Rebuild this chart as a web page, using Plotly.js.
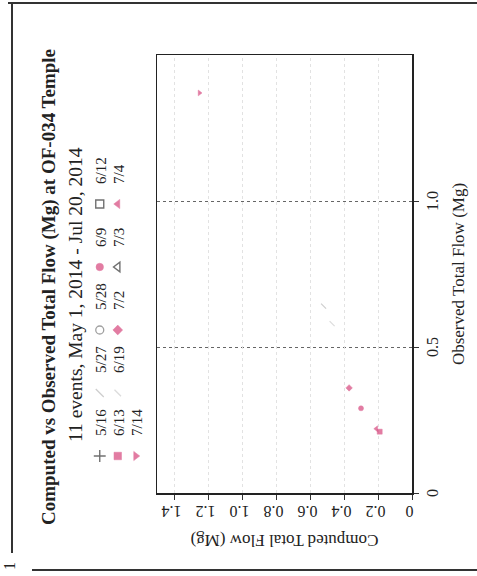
<!DOCTYPE html>
<html>
<head>
<meta charset="utf-8">
<script src="https://cdn.plot.ly/plotly-3.0.1.min.js"></script>
<style>
  html, body { margin: 0; padding: 0; background: #fff; }
  #wrap { position: relative; width: 477px; height: 576px; overflow: hidden; background: #fff; }
  #chart { position: absolute; left: 0; top: 0; width: 576px; height: 477px;
           transform-origin: 0 0; transform: translate(0px, 576px) rotate(-90deg); }
</style>
</head>
<body>
<div id="wrap"><div id="chart"></div></div>
<script>
// ---- data ----
const events   = ['5/16', '5/27', '5/28', '6/9', '6/12', '6/13', '6/19', '7/2', '7/3', '7/4', '7/14'];
const observed = [null, 0.64, null, 0.29, null, 0.21, 0.58, 0.36, null, 0.22, 1.37];
const computed = [null, 0.52, null, 0.30, null, 0.19, 0.47, 0.37, null, 0.21, 1.25];

const xTickVals = [0, 0.5, 1.0];
const xTickText = ['0', '0.5', '1.0'];
const yTickVals = [0, 0.2, 0.4, 0.6, 0.8, 1.0, 1.2, 1.4];
const yTickText = ['0', '0.2', '0.4', '0.6', '0.8', '1.0', '1.2', '1.4'];

const titleText    = 'Computed vs Observed Total Flow (Mg) at OF-034 Temple';
const subtitleText = '11 events, May 1, 2014 - Jul 20, 2014';
const xTitle = 'Observed Total Flow (Mg)';
const yTitle = 'Computed Total Flow (Mg)';

// ---- styles ----
const PINK = '#d6457c';
const DARK = '#333333';
const styles = [
  {symbol: 'cross-thin-open',  color: DARK,      lw: 1.4, ls: 12, legend: 'legend'},
  {symbol: 'line-ne-open',     color: '#b8b8b8', lw: 1.2, ls: 11, legend: 'legend'},
  {symbol: 'circle-open',      color: '#777777', lw: 1.3, ls: 11, legend: 'legend'},
  {symbol: 'circle',           color: PINK,      lw: 0.5, ls: 10, legend: 'legend'},
  {symbol: 'square-open',      color: DARK,      lw: 1.4, ls: 11, legend: 'legend',  last: true},
  {symbol: 'square',           color: PINK,      lw: 0.5, ls: 10, legend: 'legend2'},
  {symbol: 'line-ne-open',     color: '#cccccc', lw: 1.2, ls: 8,  legend: 'legend2'},
  {symbol: 'diamond',          color: PINK,      lw: 0.5, ls: 10, legend: 'legend2'},
  {symbol: 'triangle-up-open', color: DARK,      lw: 1.4, ls: 12, legend: 'legend2'},
  {symbol: 'triangle-up',      color: PINK,      lw: 0.5, ls: 11, legend: 'legend2', last: true},
  {symbol: 'triangle-down',    color: PINK,      lw: 0.5, ls: 11, legend: 'legend3', last: true}
];
const POINT_SIZE = 5;           // size of the plotted points

const FONT = 'Liberation Serif, Times New Roman, serif';

// first (empty) point only sets the legend symbol size; the second is the data point
const traces = events.map((ev, i) => {
  const t = {
    type: 'scatter',
    mode: 'markers',
    name: ev,
    x: [null, observed[i]],
    y: [null, computed[i]],
    legend: styles[i].legend,
    marker: {
      symbol: styles[i].symbol,
      size: [styles[i].ls, POINT_SIZE],
      color: styles[i].color,
      line: {color: styles[i].color, width: styles[i].lw}
    },
    hoverinfo: 'x+y+name'
  };
  if (styles[i].last) t.legendwidth = 34;
  return t;
});

// plot area in page px (unrotated): x 83..521, y 157..412
const L = 83, T = 157, W = 438, H = 255;
const px = ux => (ux - L) / W;
const py = uy => (T + H - uy) / H;

const legendBase = {
  orientation: 'h', xanchor: 'left', yanchor: 'middle',
  entrywidth: 18, itemsizing: 'trace', bgcolor: 'rgba(0,0,0,0)',
  font: {family: FONT, size: 15, color: '#222'}, tracegroupgap: 0
};

const layout = {
  width: 576, height: 477,
  margin: {l: L, r: 576 - L - W, t: T, b: 477 - T - H},
  paper_bgcolor: '#ffffff', plot_bgcolor: '#ffffff',
  font: {family: FONT, color: '#222'},
  title: {
    text: titleText, xref: 'container', yref: 'container',
    x: 289 / 576, xanchor: 'center', y: 1 - 48 / 477, yanchor: 'middle',
    font: {family: FONT, size: 19, weight: 'bold', color: '#222'}
  },
  xaxis: {
    range: [0, 1.5], tickvals: xTickVals, ticktext: xTickText,
    ticks: 'outside', ticklen: 5, tickcolor: '#333',
    showline: true, mirror: true, linecolor: '#222', linewidth: 1.5,
    showgrid: true, gridcolor: '#666', griddash: 'dot', gridwidth: 1,
    zeroline: false, tickfont: {family: FONT, size: 16},
    title: {text: xTitle, font: {family: FONT, size: 17}, standoff: 12}
  },
  yaxis: {
    range: [0, 1.5], tickvals: yTickVals, ticktext: yTickText, tickangle: -90,
    ticks: 'outside', ticklen: 5, tickcolor: '#333',
    showline: true, mirror: true, linecolor: '#222', linewidth: 1.5,
    showgrid: true, gridcolor: '#e2e2e2', griddash: 'dot', gridwidth: 1,
    zeroline: false, tickfont: {family: FONT, size: 16},
    title: {text: yTitle, font: {family: FONT, size: 17}, standoff: 10}
  },
  legend:  Object.assign({}, legendBase, {x: px(100), y: py(100)}),
  legend2: Object.assign({}, legendBase, {x: px(100), y: py(118)}),
  legend3: Object.assign({}, legendBase, {x: px(100), y: py(136)}),
  annotations: [
    {text: subtitleText, xref: 'paper', yref: 'paper', x: px(281), y: py(75),
     xanchor: 'center', yanchor: 'middle', showarrow: false,
     font: {family: FONT, size: 19.5, color: '#222'}},
    {text: '1', xref: 'paper', yref: 'paper', x: px(10), y: py(9),
     xanchor: 'center', yanchor: 'middle', showarrow: false,
     font: {family: FONT, size: 16, color: '#222'}}
  ],
  shapes: [
    // scanned page frame
    {type: 'line', xref: 'paper', yref: 'paper', x0: px(573), x1: px(573), y0: py(8), y1: py(477),
     line: {color: '#333', width: 2}},
    {type: 'line', xref: 'paper', yref: 'paper', x0: px(23), x1: px(573), y0: py(12), y1: py(12),
     line: {color: '#333', width: 2}},
    {type: 'line', xref: 'paper', yref: 'paper', x0: px(6), x1: px(6), y0: py(32), y1: py(477),
     line: {color: '#333', width: 2}}
  ],
  showlegend: true
};

Plotly.newPlot('chart', traces, layout, {displayModeBar: false, staticPlot: true});
</script>
</body>
</html>
